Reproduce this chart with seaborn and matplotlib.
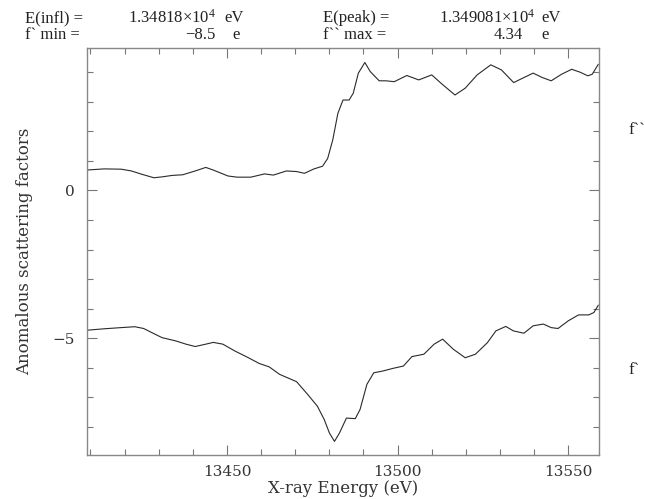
import numpy as np
import pandas as pd
import matplotlib
matplotlib.use("Agg")
import matplotlib.pyplot as plt
import seaborn as sns

# f'' (upper curve)
e_fpp = [13408.8, 13414, 13419, 13422, 13425, 13428.6, 13431, 13434, 13437, 13440.7,
         13443.8, 13446, 13450.3, 13453, 13457, 13461, 13463.6, 13467.4, 13470.4, 13472.7,
         13475.5, 13478, 13479.5, 13481, 13482.5, 13484, 13485.8, 13487, 13488.5, 13490.4,
         13492, 13494.6, 13496.6, 13499, 13502.7, 13506.2, 13510, 13512.7, 13516.8, 13519.8,
         13523.3, 13527.3, 13530.4, 13534, 13537, 13539.7, 13542.4, 13545, 13548, 13551,
         13553.5, 13555.7, 13557, 13558.8]
fpp = [0.69, 0.73, 0.72, 0.66, 0.55, 0.43, 0.46, 0.51, 0.53, 0.66,
       0.78, 0.69, 0.49, 0.45, 0.45, 0.56, 0.52, 0.66, 0.64, 0.58,
       0.73, 0.82, 1.08, 1.71, 2.61, 3.06, 3.06, 3.29, 3.97, 4.33,
       4.02, 3.71, 3.71, 3.68, 3.89, 3.74, 3.91, 3.63, 3.23, 3.46,
       3.91, 4.25, 4.08, 3.65, 3.82, 3.97, 3.82, 3.71, 3.93, 4.10,
       4.00, 3.88, 3.93, 4.27]

# f' (lower curve)
e_fp = [13408.8, 13414, 13419, 13423, 13425.6, 13428, 13431, 13435, 13438, 13440.7,
        13443.8, 13446, 13448.8, 13452.3, 13456.3, 13459.4, 13462.4, 13465.4, 13470.4, 13473.5,
        13476.5, 13478.5, 13480, 13481.5, 13483, 13485, 13487.6, 13489, 13491, 13493,
        13495.6, 13498.6, 13501.7, 13504.2, 13507.7, 13510.7, 13513.2, 13516.3, 13519.8, 13522.8,
        13526.3, 13528.8, 13531.7, 13533.9, 13537, 13539.7, 13542.7, 13545, 13547, 13550,
        13553, 13556, 13557.5, 13558.8]
fp = [-4.73, -4.68, -4.64, -4.61, -4.67, -4.81, -4.98, -5.09, -5.20, -5.28,
      -5.20, -5.14, -5.20, -5.43, -5.66, -5.85, -5.97, -6.22, -6.47, -6.88,
      -7.30, -7.75, -8.20, -8.49, -8.20, -7.70, -7.72, -7.41, -6.56, -6.17,
      -6.11, -6.02, -5.94, -5.62, -5.54, -5.20, -5.03, -5.37, -5.66, -5.54,
      -5.15, -4.75, -4.60, -4.75, -4.83, -4.58, -4.52, -4.64, -4.67, -4.41,
      -4.21, -4.21, -4.13, -3.88]

x_label = "X-ray Energy (eV)"
y_label = "Anomalous scattering factors"
x_ticks = [13450, 13500, 13550]
y_ticks = [0, -5]

sns.set_theme(style="white")
plt.rcParams['font.family'] = ['DejaVu Serif']
plt.rcParams['mathtext.fontset'] = 'custom'
plt.rcParams['mathtext.rm'] = 'Liberation Serif'
plt.rcParams['mathtext.it'] = 'Liberation Serif'

df = pd.concat([
    pd.DataFrame({'E': e_fpp, 'val': fpp, 'curve': "f''"}),
    pd.DataFrame({'E': e_fp, 'val': fp, 'curve': "f'"}),
])

fig = plt.figure(figsize=(6.45, 4.99), dpi=100)
ax = fig.add_axes([87/645, 1 - 455/499, 512/645, 407/499])
sns.lineplot(data=df, x='E', y='val', units='curve', estimator=None, sort=False,
             color='#2a2a2a', linewidth=0.8, ax=ax, legend=False)

ax.set_xlim(13409, 13559)
ax.set_ylim(-8.95, 4.82)
ax.set_xticks(x_ticks)
ax.set_xticks(np.arange(13410, 13560, 10), minor=True)
ax.set_yticks(y_ticks)
ax.set_yticks(np.arange(-8, 5, 1), minor=True)
ax.tick_params(which='both', direction='in', top=True, right=True, bottom=True, left=True,
               color='#777777', labelsize=11, labelcolor='#333333')
ax.tick_params(which='major', length=7, width=0.8)
ax.tick_params(which='minor', length=4, width=0.8)
ax.tick_params(axis='x', pad=7)
ax.tick_params(axis='y', pad=9)
for s in ax.spines.values():
    s.set_color('#888888')
    s.set_linewidth(1.0)

ax.set_xlabel(x_label, fontsize=12, color='#333333', labelpad=1)
ax.set_ylabel(y_label, fontsize=12, color='#333333', labelpad=14)

# header block
hc = '#222222'
fs = 12
hf = 'Liberation Serif'
fig.text(25/645, 1 - 18/499, "E(infl) =", fontsize=fs, color=hc, va='center', family=hf)
fig.text(216/645, 1 - 18/499, r"1.34818×10$^{4}$", fontsize=fs, color=hc, va='center', ha='right', family=hf)
fig.text(224/645, 1 - 18/499, "eV", fontsize=fs, color=hc, va='center', family=hf)
fig.text(323/645, 1 - 18/499, "E(peak) =", fontsize=fs, color=hc, va='center', family=hf)
fig.text(535/645, 1 - 18/499, r"1.349081×10$^{4}$", fontsize=fs, color=hc, va='center', ha='right', family=hf)
fig.text(541/645, 1 - 18/499, "eV", fontsize=fs, color=hc, va='center', family=hf)

fig.text(25/645, 1 - 35/499, "f` min =", fontsize=fs, color=hc, va='center', family=hf)
fig.text(216/645, 1 - 35/499, "\u22128.5", fontsize=fs, color=hc, va='center', ha='right', family=hf)
fig.text(232/645, 1 - 35/499, "e", fontsize=fs, color=hc, va='center', family=hf)
fig.text(323/645, 1 - 35/499, "f`` max =", fontsize=fs, color=hc, va='center', family=hf)
fig.text(523/645, 1 - 35/499, "4.34", fontsize=fs, color=hc, va='center', ha='right', family=hf)
fig.text(541/645, 1 - 35/499, "e", fontsize=fs, color=hc, va='center', family=hf)

# curve labels at the right
fig.text(628/645, 1 - 130/499, "f``", fontsize=fs, color=hc, va='center', family=hf)
fig.text(628/645, 1 - 370/499, "f`", fontsize=fs, color=hc, va='center', family=hf)

fig.savefig("out.png", dpi=100)
